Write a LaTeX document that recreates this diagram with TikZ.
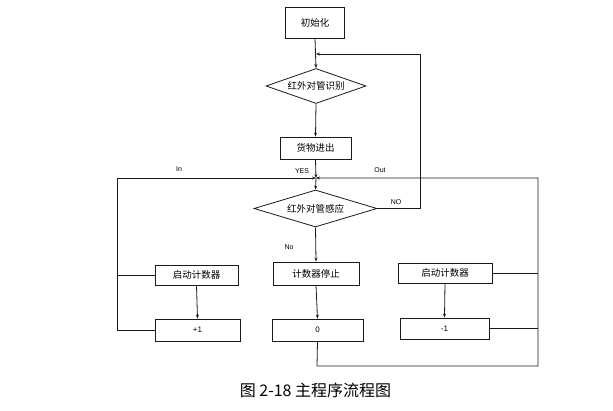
\documentclass[tikz,border=0pt]{standalone}
\usepackage{fontspec}
\setmainfont{Liberation Sans}
\newfontfamily\cjk{Noto Sans CJK SC}
\usetikzlibrary{shapes.geometric,arrows.meta}
\begin{document}
\begin{tikzpicture}[x=1pt,y=-1pt,
  line/.style={draw=black!90,line width=0.8pt},
  arr/.style={line,-{Stealth[length=4pt,width=3pt]}},
  box/.style={draw=black!90,line width=0.8pt,rectangle,inner sep=0pt,font=\cjk\fontsize{9.5}{10}\selectfont},
  dia/.style={draw=black!90,line width=0.8pt,diamond,inner sep=0pt,font=\cjk\fontsize{9.5}{10}\selectfont},
  lab/.style={font=\fontsize{7}{8}\selectfont,inner sep=0pt}]
\useasboundingbox (0,0) rectangle (613,411);
\node[box,minimum width=59pt,minimum height=31pt] (init) at (315,22.5) {初始化};
\node[dia,shape aspect=2.86,minimum width=100pt,minimum height=35pt] (d1) at (316,86) {红外对管识别};
\node[box,minimum width=71pt,minimum height=22pt] (goods) at (315.5,148) {货物进出};
\node[dia,shape aspect=3.3,minimum width=123pt,minimum height=37pt] (d2) at (315.5,208.5) {红外对管感应};
\node[box,minimum width=83pt,minimum height=20pt] (lbox) at (196.5,275) {启动计数器};
\node[box,minimum width=86pt,minimum height=23pt] (cbox) at (316,273.5) {计数器停止};
\node[box,minimum width=94pt,minimum height=20pt] (rbox) at (445,273) {启动计数器};
\node[box,minimum width=85pt,minimum height=22pt,font=\fontsize{8}{9}\selectfont] (p1) at (197.5,330) {+1};
\node[box,minimum width=91pt,minimum height=22pt,font=\fontsize{8}{9}\selectfont] (zero) at (317.5,330) {0};
\node[box,minimum width=89pt,minimum height=21pt,font=\fontsize{8}{9}\selectfont] (m1) at (444.5,328.5) {-1};
\coordinate (J) at (316,178);
\coordinate (fb) at (316,54);
\coordinate (L) at (117,178);
\coordinate (R) at (538,178);
% main flow
\draw[arr] (init.south) -- (d1.north);
\draw[arr] (d1.south) -- (goods.north);
\draw[arr] (goods.south) -- (J);
\draw[arr] (J) -- (d2.north);
\draw[arr] (d2.east) -- (420,208.5) -- (420,54) -- (fb);
\draw[arr] (d2.south) -- (cbox.north);
\draw[arr] (cbox.south) -- (zero.north);
\draw[arr] (lbox.south) -- (p1.north);
\draw[arr] (rbox.south) -- (m1.north);
% left loop
\draw[arr] (p1.west) -- (117,330) -- (L) -- (J);
\draw[line] (lbox.west) -- (117,275);
% right loop
\draw[arr] (zero.south) -- (317,366) -- (538,366) -- (R) -- (J);
\draw[line] (rbox.east) -- (538,273);
\draw[line] (m1.east) -- (538,328.5);
% labels
\node[lab] (tin) at (179,169) {In};
\node[lab] (tyes) at (302,171) {YES};
\node[lab] (tout) at (380,170) {Out};
\node[lab] (tNO) at (396,202) {NO};
\node[lab] (tno) at (289,247) {No};
\node[font=\cjk\fontsize{16}{18}\selectfont,inner sep=0pt] (cap) at (315.5,390) {图 2-18 主程序流程图};
\end{tikzpicture}
\end{document}
